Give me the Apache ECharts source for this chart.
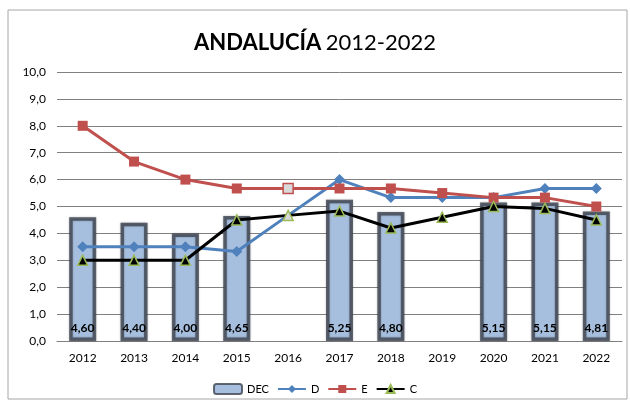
<!DOCTYPE html>
<html>
<head>
<meta charset="utf-8">
<script src="https://cdn.jsdelivr.net/npm/echarts@6/dist/echarts.min.js"></script>
<style>
  html, body { margin: 0; padding: 0; background: #fff; }
  #chart-container { width: 630px; height: 403px; }
</style>
</head>
<body>
<div id="chart-container"></div>
<script>
var years = ['2012', '2013', '2014', '2015', '2016', '2017', '2018', '2019', '2020', '2021', '2022'];
var decValues = [4.60, 4.40, 4.00, 4.65, null, 5.25, 4.80, null, 5.15, 5.15, 4.81];
var dValues = [3.5, 3.5, 3.5, 3.33, 4.67, 6.0, 5.33, 5.33, 5.33, 5.67, 5.67];
var eValues = [8.0, 6.67, 6.0, 5.67, 5.67, 5.67, 5.67, 5.5, 5.33, 5.33, 5.0];
var cValues = [3.0, 3.0, 3.0, 4.5, 4.67, 4.83, 4.2, 4.6, 5.0, 4.93, 4.5];
var yTicks = [0, 1, 2, 3, 4, 5, 6, 7, 8, 9, 10];

var fontFamily = 'Lato, "Liberation Sans", sans-serif';
var greyYear = '2016'; // markers drawn pale in this year

function fmt(v) {
  return v.toFixed(1).replace('.', ',');
}

// pale marker for the 2016 point
function withPale(values, border, hide) {
  return values.map(function (v, i) {
    if (years[i] !== greyYear) return v;
    if (hide) return { value: v, symbol: 'none' };
    return { value: v, itemStyle: { color: '#d9d9d9', borderColor: border, borderWidth: 1.5 } };
  });
}

var dom = document.getElementById('chart-container');
var myChart = echarts.init(dom, null, { renderer: 'canvas' });

var option = {
  animation: false,
  textStyle: { fontFamily: fontFamily },
  graphic: [{
    type: 'rect',
    shape: { x: 8, y: 10, width: 619, height: 389 },
    style: { fill: 'none', stroke: '#a6a6a6', lineWidth: 1 }
  }],
  title: {
    text: '{b|ANDALUCÍA} {n|2012-2022}',
    left: 'center',
    top: 27,
    textStyle: {
      rich: {
        b: { fontSize: 22, fontWeight: 'bold', color: '#000', fontFamily: fontFamily },
        n: { fontSize: 22, fontWeight: 'normal', color: '#000', fontFamily: fontFamily }
      }
    }
  },
  legend: {
    bottom: 3,
    left: 'center',
    itemWidth: 28,
    itemHeight: 10,
    itemGap: 8,
    textStyle: { fontSize: 11, color: '#000' },
    data: ['DEC', 'D', 'E', 'C']
  },
  grid: {
    left: 57,
    right: 8,
    top: 72,
    bottom: 62
  },
  xAxis: {
    type: 'category',
    data: years,
    axisLine: { lineStyle: { color: '#808080', width: 1 } },
    axisTick: { show: false },
    axisLabel: { color: '#000', fontSize: 12, margin: 11 }
  },
  yAxis: {
    type: 'value',
    min: yTicks[0],
    max: yTicks[yTicks.length - 1],
    interval: 1,
    axisLine: { show: false },
    axisTick: { show: false },
    splitLine: { lineStyle: { color: '#808080', width: 1 } },
    axisLabel: { color: '#000', fontSize: 12, margin: 11, formatter: fmt }
  },
  series: [
    {
      name: 'DEC',
      type: 'bar',
      data: decValues,
      barWidth: 27,
      itemStyle: {
        color: '#a7bfde',
        borderColor: 'rgba(70,78,90,0.85)',
        borderWidth: 3.5,
        shadowColor: 'rgba(0,0,0,0.35)',
        shadowBlur: 2
      },
      label: {
        show: true,
        position: 'insideBottom',
        distance: 7,
        color: '#000',
        fontWeight: 'bold',
        fontSize: 12,
        formatter: function (p) { return p.value.toFixed(2).replace('.', ','); }
      },
      z: 1
    },
    {
      name: 'D',
      type: 'line',
      data: withPale(dValues, '#4f81bd', true),
      symbol: 'diamond',
      symbolSize: 11,
      lineStyle: { color: '#4f81bd', width: 3 },
      itemStyle: { color: '#4f81bd' },
      z: 3
    },
    {
      name: 'E',
      type: 'line',
      data: withPale(eValues, '#c0504d', false),
      symbol: 'rect',
      symbolSize: 10,
      lineStyle: { color: '#c0504d', width: 3 },
      itemStyle: { color: '#c0504d' },
      z: 3
    },
    {
      name: 'C',
      type: 'line',
      data: withPale(cValues, '#9bbb59', false),
      symbol: 'triangle',
      symbolSize: 10,
      lineStyle: { color: '#000', width: 3 },
      itemStyle: { color: '#000', borderColor: '#9bbb59', borderWidth: 1.5 },
      z: 4
    }
  ]
};

if (option && typeof option === 'object') {
  myChart.setOption(option);
}

window.addEventListener('resize', myChart.resize);
</script>
</body>
</html>
